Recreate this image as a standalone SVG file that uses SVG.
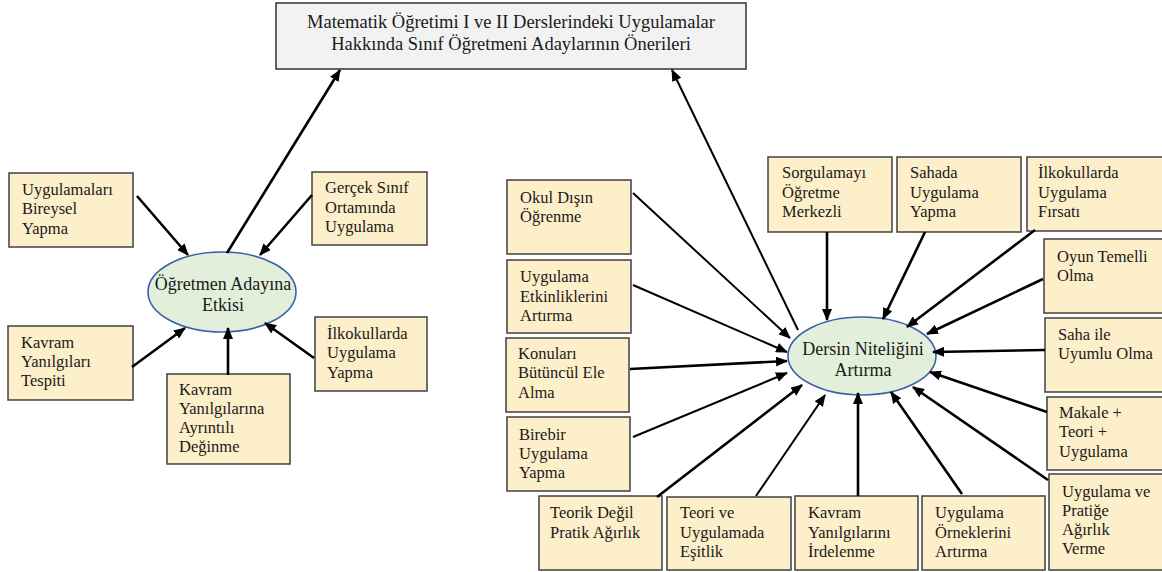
<svg xmlns="http://www.w3.org/2000/svg" width="1162" height="572" viewBox="0 0 1162 572">
<defs>
<marker id="ah" markerUnits="userSpaceOnUse" markerWidth="12" markerHeight="10" refX="11" refY="5" orient="auto">
<path d="M0,0 L12,5 L0,10 z" fill="#000"/>
</marker>
<style>
.box{fill:#fdefc9;stroke:#404040;stroke-width:1.5}
.ell{fill:#e2efda;stroke:#3a62a8;stroke-width:1.6}
.ttl{fill:#f2f2f2;stroke:#333;stroke-width:1.5}
text{font-family:"Liberation Serif","Times New Roman",serif;fill:#1a1a1a}
.t{font-size:16.5px}
.e{font-size:18px;text-anchor:middle}
.h{font-size:18.5px;text-anchor:middle}
.c line{stroke:#000;stroke-width:2;marker-end:url(#ah)}
.c line.k{stroke-width:2.6}
</style>
</defs>
<rect width="1162" height="572" fill="#fff"/>

<g id="title">
<rect class="ttl" x="276" y="3" width="470" height="66"/>
<text class="h" x="511" y="28">Matematik Öğretimi I ve II Derslerindeki Uygulamalar</text>
<text class="h" x="511" y="50">Hakkında Sınıf Öğretmeni Adaylarının Önerileri</text>
</g>

<g id="n-ogretmen">
<ellipse class="ell" cx="222" cy="292" rx="74" ry="40"/>
<text class="e" x="223" y="290">Öğretmen Adayına</text>
<text class="e" x="223" y="311">Etkisi</text>
</g>

<g id="n-bireysel">
<rect class="box" x="9" y="173" width="124" height="74"/>
<text class="t" x="22" y="195">Uygulamaları</text>
<text class="t" x="22" y="214">Bireysel</text>
<text class="t" x="22" y="234">Yapma</text>
</g>
<g id="n-gercek">
<rect class="box" x="312" y="172" width="115" height="73"/>
<text class="t" x="325" y="193">Gerçek Sınıf</text>
<text class="t" x="325" y="213">Ortamında</text>
<text class="t" x="325" y="232">Uygulama</text>
</g>
<g id="n-tespit">
<rect class="box" x="8" y="326" width="125" height="74"/>
<text class="t" x="21" y="348">Kavram</text>
<text class="t" x="21" y="367">Yanılgıları</text>
<text class="t" x="21" y="386">Tespiti</text>
</g>
<g id="n-deginme">
<rect class="box" x="167" y="374" width="123" height="90"/>
<text class="t" x="179" y="395">Kavram</text>
<text class="t" x="179" y="414">Yanılgılarına</text>
<text class="t" x="179" y="433">Ayrıntılı</text>
<text class="t" x="179" y="452">Değinme</text>
</g>
<g id="n-ilkokul-yapma">
<rect class="box" x="315" y="317" width="112" height="74"/>
<text class="t" x="327" y="339">İlkokullarda</text>
<text class="t" x="327" y="358">Uygulama</text>
<text class="t" x="327" y="378">Yapma</text>
</g>

<g id="n-dersin">
<ellipse class="ell" cx="862" cy="356" rx="74" ry="39"/>
<text class="e" x="863" y="355">Dersin Niteliğini</text>
<text class="e" x="863" y="376">Artırma</text>
</g>

<g id="n-okul">
<rect class="box" x="507" y="180" width="124" height="74"/>
<text class="t" x="520" y="203">Okul Dışın</text>
<text class="t" x="520" y="222">Öğrenme</text>
</g>
<g id="n-etkinlik">
<rect class="box" x="507" y="260" width="124" height="73"/>
<text class="t" x="520" y="282">Uygulama</text>
<text class="t" x="520" y="302">Etkinliklerini</text>
<text class="t" x="520" y="321">Artırma</text>
</g>
<g id="n-butuncul">
<rect class="box" x="506" y="338" width="123" height="74"/>
<text class="t" x="518" y="359">Konuları</text>
<text class="t" x="518" y="378">Bütüncül Ele</text>
<text class="t" x="518" y="398">Alma</text>
</g>
<g id="n-birebir">
<rect class="box" x="507" y="417" width="123" height="74"/>
<text class="t" x="519" y="440">Birebir</text>
<text class="t" x="519" y="459">Uygulama</text>
<text class="t" x="519" y="478">Yapma</text>
</g>
<g id="n-teorik">
<rect class="box" x="539" y="496" width="123" height="74"/>
<text class="t" x="550" y="518">Teorik Değil</text>
<text class="t" x="550" y="538">Pratik Ağırlık</text>
</g>
<g id="n-esitlik">
<rect class="box" x="667" y="497" width="124" height="73"/>
<text class="t" x="680" y="518">Teori ve</text>
<text class="t" x="680" y="538">Uygulamada</text>
<text class="t" x="680" y="557">Eşitlik</text>
</g>
<g id="n-irdele">
<rect class="box" x="795" y="496" width="123" height="74"/>
<text class="t" x="808" y="518">Kavram</text>
<text class="t" x="808" y="538">Yanılgılarını</text>
<text class="t" x="808" y="557">İrdelenme</text>
</g>
<g id="n-ornek">
<rect class="box" x="922" y="496" width="123" height="74"/>
<text class="t" x="935" y="518">Uygulama</text>
<text class="t" x="935" y="538">Örneklerini</text>
<text class="t" x="935" y="557">Artırma</text>
</g>
<g id="n-pratik">
<rect class="box" x="1049" y="474" width="120" height="96"/>
<text class="t" x="1062" y="497">Uygulama ve</text>
<text class="t" x="1062" y="516">Pratiğe</text>
<text class="t" x="1062" y="535">Ağırlık</text>
<text class="t" x="1062" y="554">Verme</text>
</g>
<g id="n-makale">
<rect class="box" x="1047" y="397" width="122" height="73"/>
<text class="t" x="1059" y="418">Makale +</text>
<text class="t" x="1059" y="437">Teori +</text>
<text class="t" x="1059" y="457">Uygulama</text>
</g>
<g id="n-saha">
<rect class="box" x="1045" y="318" width="124" height="74"/>
<text class="t" x="1058" y="340">Saha ile</text>
<text class="t" x="1058" y="359">Uyumlu Olma</text>
</g>
<g id="n-oyun">
<rect class="box" x="1044" y="239" width="125" height="74"/>
<text class="t" x="1057" y="262">Oyun Temelli</text>
<text class="t" x="1057" y="281">Olma</text>
</g>
<g id="n-firsat">
<rect class="box" x="1027" y="157" width="142" height="74"/>
<text class="t" x="1038" y="178">İlkokullarda</text>
<text class="t" x="1038" y="198">Uygulama</text>
<text class="t" x="1038" y="217">Fırsatı</text>
</g>
<g id="n-sahada">
<rect class="box" x="897" y="157" width="124" height="75"/>
<text class="t" x="910" y="178">Sahada</text>
<text class="t" x="910" y="198">Uygulama</text>
<text class="t" x="910" y="217">Yapma</text>
</g>
<g id="n-sorgu">
<rect class="box" x="768" y="157" width="124" height="75"/>
<text class="t" x="782" y="178">Sorgulamayı</text>
<text class="t" x="782" y="198">Öğretme</text>
<text class="t" x="782" y="217">Merkezli</text>
</g>

<g id="connectors" class="c">
<line x1="137" y1="196" x2="188" y2="255" class="k"/>
<line x1="312" y1="195" x2="260" y2="255" class="k"/>
<line x1="132" y1="367" x2="185" y2="328" class="k"/>
<line x1="228" y1="375" x2="228" y2="328" class="k"/>
<line x1="314" y1="358" x2="265" y2="323" class="k"/>
<line x1="227" y1="253" x2="340" y2="70" class="k"/>
<line x1="798" y1="330" x2="672" y2="70"/>
<line x1="633" y1="193" x2="790" y2="338"/>
<line x1="633" y1="285" x2="787" y2="352"/>
<line x1="630" y1="369" x2="787" y2="361" class="k"/>
<line x1="633" y1="437" x2="787" y2="373"/>
<line x1="657" y1="497" x2="802" y2="385" class="k"/>
<line x1="756" y1="496" x2="825" y2="395"/>
<line x1="858" y1="496" x2="858" y2="393" class="k"/>
<line x1="962" y1="494" x2="891" y2="392" class="k"/>
<line x1="1048" y1="480" x2="913" y2="387" class="k"/>
<line x1="1047" y1="412" x2="930" y2="372" class="k"/>
<line x1="1045" y1="350" x2="933" y2="352" class="k"/>
<line x1="1043" y1="279" x2="927" y2="334" class="k"/>
<line x1="1035" y1="230" x2="907" y2="327" class="k"/>
<line x1="925" y1="232" x2="883" y2="319" class="k"/>
<line x1="827" y1="232" x2="827" y2="320" class="k"/>
</g>
</svg>
